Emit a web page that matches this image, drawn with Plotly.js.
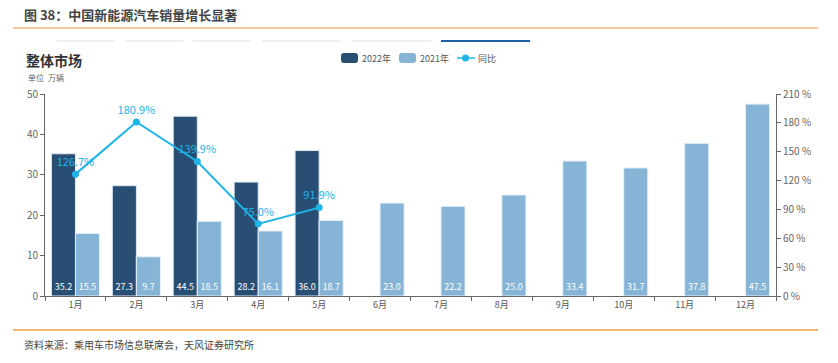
<!DOCTYPE html>
<html><head><meta charset="utf-8">
<script src="https://cdn.plot.ly/plotly-3.0.1.min.js"></script>
<style>body{margin:0;background:#fff}#c{width:838px;height:363px}</style>
</head><body><div id="c"></div>
<script>
const months = ['1月','2月','3月','4月','5月','6月','7月','8月','9月','10月','11月','12月'];
const sales2022 = [35.2, 27.3, 44.5, 28.2, 36.0, null, null, null, null, null, null, null];
const sales2021 = [15.5, 9.7, 18.5, 16.1, 18.7, 23.0, 22.2, 25.0, 33.4, 31.7, 37.8, 47.5];
const yoy = [126.7, 180.9, 139.9, 75.0, 91.9, null, null, null, null, null, null, null];

const F = '"Noto Sans CJK SC", "Noto Sans", sans-serif';
const fmt1 = v => v == null ? '' : v.toFixed(1);
const C22 = '#284e74', C21 = '#85b4d6', CL = '#1eb4e8';

const traces = [
  {type:'bar', name:'2022年', x:months, y:sales2022, marker:{color:C22, line:{color:'#dfe8f0', width:1}},
   text:sales2022.map(fmt1), textposition:'inside', insidetextanchor:'start', textangle:0,
   textfont:{color:'#ffffff', size:9, family:F}, hoverinfo:'none'},
  {type:'bar', name:'2021年', x:months, y:sales2021, marker:{color:C21, line:{color:'#e6f0f8', width:1}},
   text:sales2021.map(fmt1), textposition:'inside', insidetextanchor:'start', textangle:0,
   textfont:{color:'#ffffff', size:9, family:F}, hoverinfo:'none'},
  {type:'scatter', mode:'lines+markers+text', name:'同比', x:months, y:yoy, yaxis:'y2',
   line:{color:CL, width:2}, marker:{color:CL, size:7},
   text:yoy.map(v => v==null ? '' : v.toFixed(1)+'%'), textposition:'top center',
   textfont:{color:CL, size:11, family:F}, cliponaxis:false, hoverinfo:'none'}
];

const W = 838-45-62, H = 363-94-67;
const px = x => (x-45)/W, py = y => (296-y)/H;
const hline = (x0,x1,y,c,w) => ({type:'line', xref:'paper', yref:'paper', x0:px(x0), x1:px(x1), y0:py(y), y1:py(y), line:{color:c, width:w}});
const rrect = (x0,x1,y0,y1,r,c) => {
  const p = (x,y) => px(x)+','+py(y);
  return {type:'path', xref:'paper', yref:'paper', fillcolor:c, line:{width:0},
    path:'M'+p(x0+r,y0)+' L'+p(x1-r,y0)+' Q'+p(x1,y0)+' '+p(x1,y0+r)+' L'+p(x1,y1-r)+' Q'+p(x1,y1)+' '+p(x1-r,y1)+
         ' L'+p(x0+r,y1)+' Q'+p(x0,y1)+' '+p(x0,y1-r)+' L'+p(x0,y0+r)+' Q'+p(x0,y0)+' '+p(x0+r,y0)+' Z'};
};
const label = (x,y,t,size,color,bold) => ({xref:'paper', yref:'paper', x:px(x), y:py(y), xanchor:'left', yanchor:'middle', showarrow:false,
   text: bold ? '<b>'+t+'</b>' : t, font:{size:size, color:color, family:F}});

const layout = {
  width:838, height:363,
  margin:{l:45, r:62, t:94, b:67},
  paper_bgcolor:'#fff', plot_bgcolor:'#fff',
  font:{family:F, color:'#555', size:9},
  barmode:'group', bargap:0.21, bargroupgap:0,
  showlegend:false,
  xaxis:{type:'category', range:[-0.5, 11.5], autorange:false, showgrid:false, showline:true, linecolor:'#666', linewidth:1,
         ticks:'outside', tickson:'boundaries', ticklen:4, tickcolor:'#666',
         tickfont:{size:9, color:'#555'}},
  yaxis:{range:[0,50], dtick:10, showgrid:false, showline:true, linecolor:'#666', linewidth:1,
         ticks:'outside', ticklen:4, tickcolor:'#666', tickfont:{size:10, color:'#666'}, zeroline:false},
  yaxis2:{range:[0,210], dtick:30, overlaying:'y', side:'right', showgrid:false, showline:true,
          linecolor:'#666', linewidth:1, ticks:'outside', ticklen:4, tickcolor:'#666',
          ticksuffix:' %', tickfont:{size:10, color:'#666'}, zeroline:false},
  shapes:[
    hline(13,818,28,'#f5b87a',1.5),
    hline(13,818,330,'#f5a04a',1.5),
    hline(57,115,41,'#f0f0f0',2),
    hline(125,183,41,'#f0f0f0',2),
    hline(193,251,41,'#f0f0f0',2),
    hline(262,341,41,'#f0f0f0',2),
    hline(351,431,41,'#f0f0f0',2),
    hline(441,530,41,'#1f5fa6',2),
    rrect(341,358,53,63,3,C22),
    rrect(399,416,53,63,3,C21),
    hline(457,475,58,CL,1.5),
    {type:'circle', xref:'paper', yref:'paper', x0:px(462), x1:px(469), y0:py(61.5), y1:py(54.5), fillcolor:CL, line:{width:0}}
  ],
  annotations:[
    label(22,14,'图 38：中国新能源汽车销量增长显著',13,'#444',true),
    label(24,60,'整体市场',14,'#333',true),
    label(26,78,'单位\u2002万辆',8,'#666',false),
    label(22,344,'资料来源：乘用车市场信息联席会，天风证券研究所',10,'#444',false),
    label(360,58,'2022年',9,'#555',false),
    label(418,58,'2021年',9,'#555',false),
    label(476,58,'同比',9,'#555',false)
  ]
};
Plotly.newPlot('c', traces, layout, {displayModeBar:false, staticPlot:true});
</script></body></html>
